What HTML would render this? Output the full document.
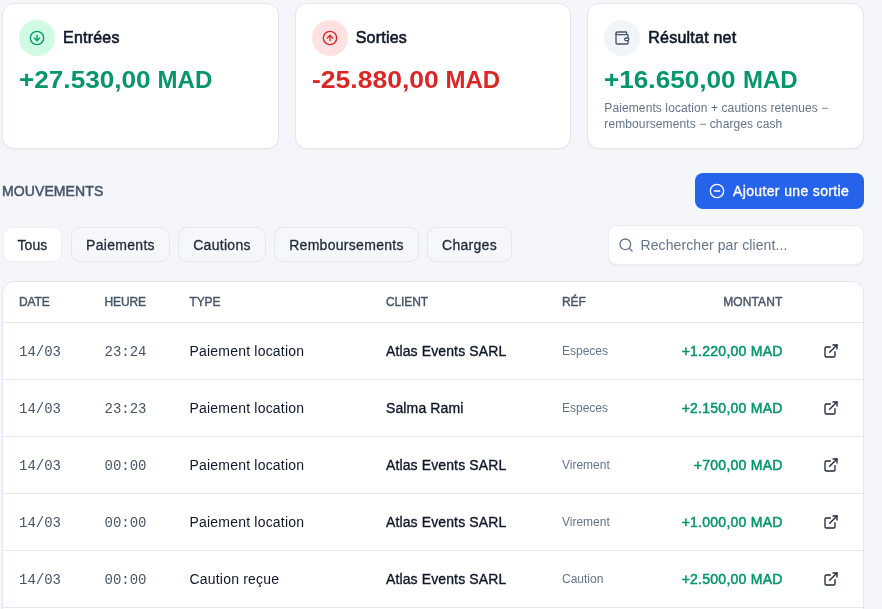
<!DOCTYPE html>
<html lang="fr">
<head>
<meta charset="utf-8">
<title>Caisse</title>
<style>
*{box-sizing:border-box;margin:0;padding:0}
html,body{width:882px;height:609px;overflow:hidden}
body{background:#f4f6fa;font-family:"Liberation Sans",sans-serif;color:#0f172a;position:relative}
.md{-webkit-text-stroke:.35px currentColor}
.cards{position:absolute;left:2px;top:3px;width:862px;display:flex;gap:16px}
.card{flex:1;height:146px;background:#fff;border:1px solid #e2e8f0;border-radius:12px;padding:16px;box-shadow:0 1px 2px rgba(15,23,42,.04)}
.card .hd{display:flex;align-items:center;height:36px}
.ic{width:36px;height:36px;border-radius:50%;display:flex;align-items:center;justify-content:center;margin-right:8px;flex:none}
.ic.g{background:#d1fae5;color:#059669}
.ic.r{background:#fee2e2;color:#dc2626}
.ic.n{background:#f1f5f9;color:#475569}
.card .t{font-size:16px;color:#0f172a;-webkit-text-stroke:.6px currentColor;letter-spacing:.22px;position:relative;top:-.5px}
.card .v{font-size:24px;font-weight:700;margin-top:10px;line-height:28px;white-space:nowrap}
.card .v .nm{display:inline-block;transform-origin:0 50%}
.green{color:#059669}.red{color:#dc2626}
.card .s{font-size:12px;line-height:16px;color:#64748b;margin-top:6px;letter-spacing:.1px;white-space:nowrap}
.sec{position:absolute;left:2px;top:183px;font-size:14px;line-height:16px;color:#475569;letter-spacing:.1px;-webkit-text-stroke:.5px currentColor}
.btn{position:absolute;left:695px;top:173px;width:169px;height:36px;background:#2563eb;border-radius:8px;color:#fff;font-size:14px;display:flex;align-items:center;padding-left:14px;letter-spacing:.36px;-webkit-text-stroke:.35px currentColor}
.btn svg{margin-right:8px}
.pills{position:absolute;left:0;top:227px}
.pill{position:absolute;top:0;height:35px;padding-top:1px;border:1px solid #e2e8f0;border-radius:9px;font-size:14px;color:#1e293b;display:flex;align-items:center;justify-content:center;background:#f5f7fa;letter-spacing:.3px;-webkit-text-stroke:.3px currentColor}
.pill.on{background:#fff;border-color:#edf0f5;letter-spacing:.1px}
.search{position:absolute;left:608px;top:225px;width:256px;height:40px;background:#fff;border:1px solid #e9edf3;border-radius:9px;box-shadow:0 1px 2px rgba(15,23,42,.05);display:flex;align-items:center;padding-left:10px;font-size:14px;color:#64748b;letter-spacing:.09px}
.search svg{margin-right:6.5px;margin-left:-1px;color:#64748b}
.tbl{position:absolute;left:2px;top:281px;width:862px;height:340px;background:#fff;border:1px solid #e2e8f0;border-radius:12px 12px 0 0;overflow:hidden}
.row{position:relative;height:57px;border-top:1px solid #e2e8f0;font-size:14px}
.row.h{height:40px;border-top:0;font-size:12px;color:#475569;-webkit-text-stroke:.4px currentColor;letter-spacing:-.12px}
.row span{position:absolute;top:0;height:100%;display:flex;align-items:center;white-space:nowrap}
.c1{left:16px}.c2{left:101.5px}.c3{left:186.5px}.c4{left:383px}.c5{left:559px}.c6{right:80.3px}.row.h .c6{letter-spacing:.1px;right:80.6px}.c7{left:820px}
.mono{font-family:"Liberation Mono",monospace;color:#475569;font-size:14px;padding-top:2px}
.ty{letter-spacing:.2px;color:#0f172a}
.ref{font-size:12px;color:#64748b}
.amt{color:#059669;letter-spacing:.26px;-webkit-text-stroke:.5px currentColor}
.cl{color:#0f172a;letter-spacing:.12px;-webkit-text-stroke:.35px currentColor}
.ext{color:#1e293b}
</style>
</head>
<body>
<div class="cards">
  <div class="card"><div class="hd"><div class="ic g"><svg width="16" height="16" viewBox="0 0 24 24" fill="none" stroke="currentColor" stroke-width="2" stroke-linecap="round" stroke-linejoin="round"><circle cx="12" cy="12" r="10"/><path d="M12 8v8"/><path d="m8 12 4 4 4-4"/></svg></div><div class="t">Entrées</div></div><div class="v green"><span class="nm" style="transform:scaleX(1.09);margin-right:11.17px">+27.530,00</span> MAD</div></div>
  <div class="card"><div class="hd"><div class="ic r"><svg width="16" height="16" viewBox="0 0 24 24" fill="none" stroke="currentColor" stroke-width="2" stroke-linecap="round" stroke-linejoin="round"><circle cx="12" cy="12" r="10"/><path d="M12 16V8"/><path d="m16 12-4-4-4 4"/></svg></div><div class="t">Sorties</div></div><div class="v red"><span class="nm" style="transform:scaleX(1.105);margin-right:12.35px">-25.880,00</span> MAD</div></div>
  <div class="card"><div class="hd"><div class="ic n"><svg width="16" height="16" viewBox="0 0 24 24" fill="none" stroke="currentColor" stroke-width="2" stroke-linecap="round" stroke-linejoin="round"><path d="M19 7V4a1 1 0 0 0-1-1H5a2 2 0 0 0 0 4h15a1 1 0 0 1 1 1v4h-3a2 2 0 0 0 0 4h3a1 1 0 0 0 1-1v-2a1 1 0 0 0-1-1"/><path d="M3 5v14a2 2 0 0 0 2 2h15a1 1 0 0 0 1-1v-4"/></svg></div><div class="t">Résultat net</div></div><div class="v green"><span class="nm" style="transform:scaleX(1.09);margin-right:11.17px">+16.650,00</span> MAD</div><div class="s">Paiements location + cautions retenues −<br>remboursements − charges cash</div></div>
</div>
<div class="sec">MOUVEMENTS</div>
<div class="btn"><svg width="16" height="16" viewBox="0 0 24 24" fill="none" stroke="currentColor" stroke-width="2" stroke-linecap="round" stroke-linejoin="round" style="-webkit-text-stroke:0"><circle cx="12" cy="12" r="10"/><path d="M8 12h8"/></svg>Ajouter une sortie</div>
<div class="pills"><div class="pill on" style="left:3px;width:59px">Tous</div><div class="pill" style="left:71px;width:99px">Paiements</div><div class="pill" style="left:178px;width:88px">Cautions</div><div class="pill" style="left:274px;width:145px">Remboursements</div><div class="pill" style="left:427px;width:85px">Charges</div></div>
<div class="search"><svg width="16" height="16" viewBox="0 0 24 24" fill="none" stroke="currentColor" stroke-width="2" stroke-linecap="round" stroke-linejoin="round"><circle cx="11" cy="11" r="8"/><path d="m21 21-4.3-4.3"/></svg>Rechercher par client...</div>
<div class="tbl">
  <div class="row h"><span class="c1">DATE</span><span class="c2">HEURE</span><span class="c3">TYPE</span><span class="c4">CLIENT</span><span class="c5">RÉF</span><span class="c6">MONTANT</span></div>
  <div class="row"><span class="c1 mono">14/03</span><span class="c2 mono">23:24</span><span class="c3 ty">Paiement location</span><span class="c4 cl">Atlas Events SARL</span><span class="c5 ref">Especes</span><span class="c6 amt">+1.220,00 MAD</span><span class="c7"><svg class="ext" width="16" height="16" viewBox="0 0 24 24" fill="none" stroke="currentColor" stroke-width="2" stroke-linecap="round" stroke-linejoin="round"><path d="M15 3h6v6"/><path d="M10 14 21 3"/><path d="M18 13v6a2 2 0 0 1-2 2H5a2 2 0 0 1-2-2V8a2 2 0 0 1 2-2h6"/></svg></span></div>
  <div class="row"><span class="c1 mono">14/03</span><span class="c2 mono">23:23</span><span class="c3 ty">Paiement location</span><span class="c4 cl">Salma Rami</span><span class="c5 ref">Especes</span><span class="c6 amt">+2.150,00 MAD</span><span class="c7"><svg class="ext" width="16" height="16" viewBox="0 0 24 24" fill="none" stroke="currentColor" stroke-width="2" stroke-linecap="round" stroke-linejoin="round"><path d="M15 3h6v6"/><path d="M10 14 21 3"/><path d="M18 13v6a2 2 0 0 1-2 2H5a2 2 0 0 1-2-2V8a2 2 0 0 1 2-2h6"/></svg></span></div>
  <div class="row"><span class="c1 mono">14/03</span><span class="c2 mono">00:00</span><span class="c3 ty">Paiement location</span><span class="c4 cl">Atlas Events SARL</span><span class="c5 ref">Virement</span><span class="c6 amt">+700,00 MAD</span><span class="c7"><svg class="ext" width="16" height="16" viewBox="0 0 24 24" fill="none" stroke="currentColor" stroke-width="2" stroke-linecap="round" stroke-linejoin="round"><path d="M15 3h6v6"/><path d="M10 14 21 3"/><path d="M18 13v6a2 2 0 0 1-2 2H5a2 2 0 0 1-2-2V8a2 2 0 0 1 2-2h6"/></svg></span></div>
  <div class="row"><span class="c1 mono">14/03</span><span class="c2 mono">00:00</span><span class="c3 ty">Paiement location</span><span class="c4 cl">Atlas Events SARL</span><span class="c5 ref">Virement</span><span class="c6 amt">+1.000,00 MAD</span><span class="c7"><svg class="ext" width="16" height="16" viewBox="0 0 24 24" fill="none" stroke="currentColor" stroke-width="2" stroke-linecap="round" stroke-linejoin="round"><path d="M15 3h6v6"/><path d="M10 14 21 3"/><path d="M18 13v6a2 2 0 0 1-2 2H5a2 2 0 0 1-2-2V8a2 2 0 0 1 2-2h6"/></svg></span></div>
  <div class="row"><span class="c1 mono">14/03</span><span class="c2 mono">00:00</span><span class="c3 ty">Caution reçue</span><span class="c4 cl">Atlas Events SARL</span><span class="c5 ref">Caution</span><span class="c6 amt">+2.500,00 MAD</span><span class="c7"><svg class="ext" width="16" height="16" viewBox="0 0 24 24" fill="none" stroke="currentColor" stroke-width="2" stroke-linecap="round" stroke-linejoin="round"><path d="M15 3h6v6"/><path d="M10 14 21 3"/><path d="M18 13v6a2 2 0 0 1-2 2H5a2 2 0 0 1-2-2V8a2 2 0 0 1 2-2h6"/></svg></span></div>
  <div class="row"></div>
</div>
</body>
</html>
